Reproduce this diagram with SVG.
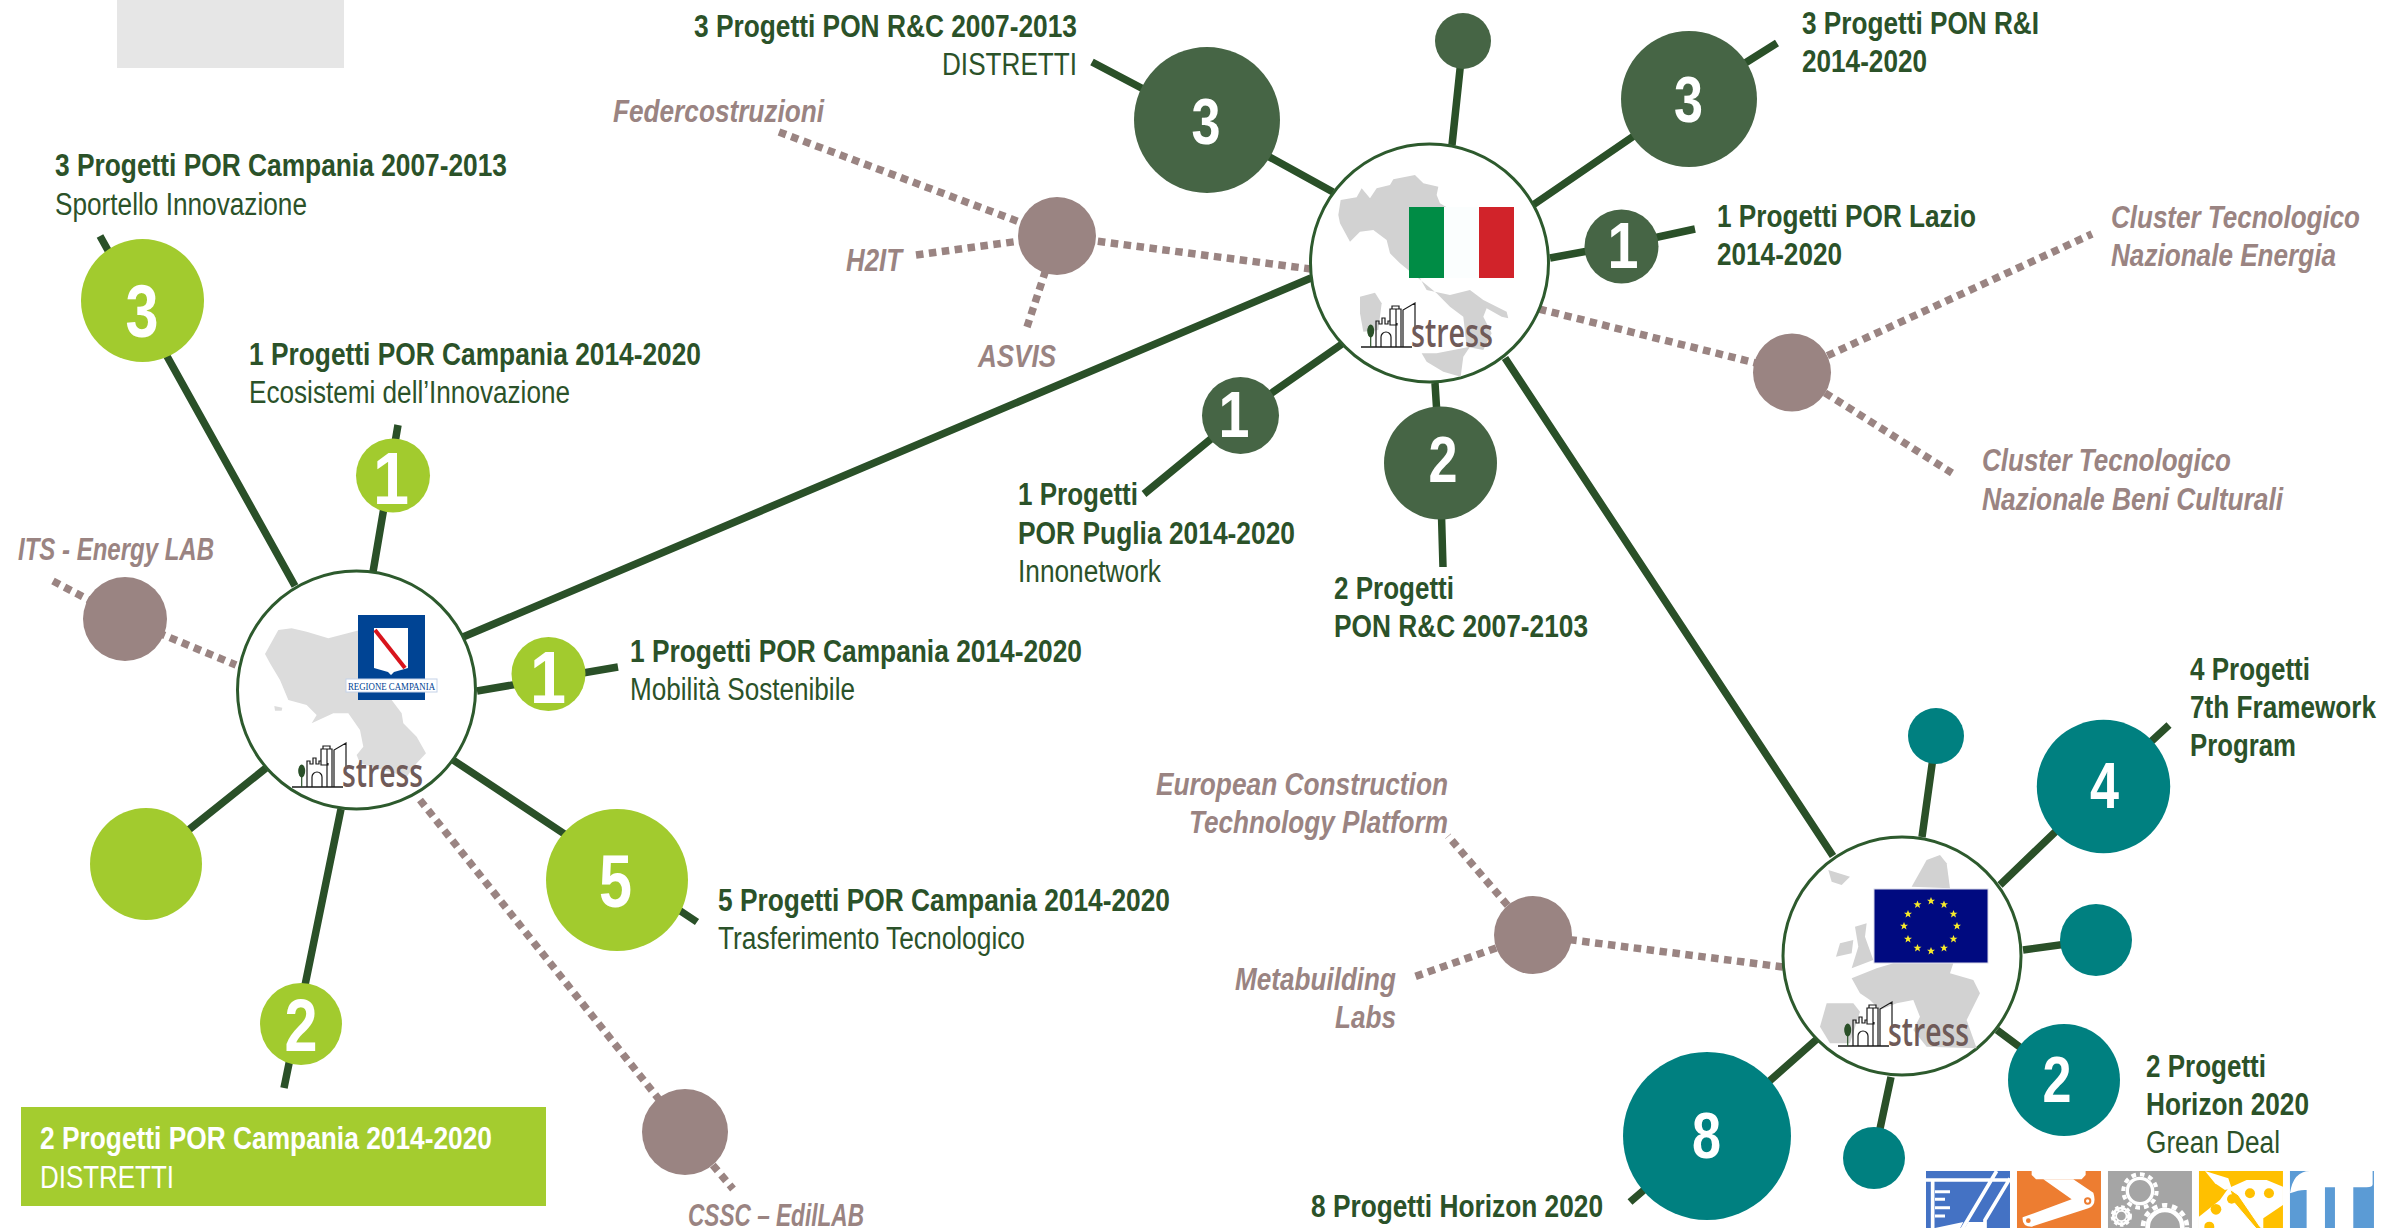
<svg xmlns="http://www.w3.org/2000/svg" width="2385" height="1228" viewBox="0 0 2385 1228">
<style>
text{font-family:"Liberation Sans",Arial,sans-serif;font-size:31px;fill:#2b5229}
.b{font-weight:700}
.g{font-weight:700;font-style:italic;fill:#9a8482}
.w{fill:#fff}
.n{font-weight:700;fill:#fff;font-size:65px}
.m{font-weight:700;fill:#fff;font-size:75px}
.line{stroke:#2a5028;stroke-width:7.5;fill:none}
.dot{stroke:#9a8482;stroke-width:7.5;fill:none;stroke-dasharray:7.5 5.5}
.hub{fill:#fff;stroke:#2d5a2d;stroke-width:3}
.cam{fill:#a2cb2e}.ita{fill:#466545}.eu{fill:#008080}.gr{fill:#9a8482}
.map{fill:#d2d2d2}
.st{font-family:"Open Sans","Liberation Sans",sans-serif;font-weight:600;font-size:40px;fill:#6f5a58}
.bd{fill:none;stroke:#1a1a1a;stroke-width:1.2}
</style>
<defs>
<g id="bld">
<path d="M0,0H51" stroke="#1a1a1a" stroke-width="1.5" fill="none"/>
<ellipse cx="9.700" cy="-16" rx="3.500" ry="6.500" fill="#2a5028"/>
<path d="M9.700,-10V0" stroke="#2a5028" stroke-width="1.200"/>
<path class="bd" d="M15,0V-26h3v3h3v-6h3v6h3v-3h2v4h7v-2M20,0V-10a5,5 0 0 1 10,0V0M29,-22V-38h11V0M31,-38v-3h7v3M35,0V-38M42,0V-37L54,-44V-20"/>
</g>
<polygon id="star" points="0,-4 1.100,-1.300 4,-1.200 1.700,.6 2.500,3.400 0,1.800 -2.500,3.400 -1.700,.6 -4,-1.200 -1.100,-1.300" fill="#f7ea2b"/>
</defs>
<rect x="117" y="0" width="227" height="68" fill="#e6e6e6"/>
<rect x="21" y="1107" width="525" height="99" fill="#a4cc2f"/>

<g id="connectors">
<path class="line" d="M463,637L1311,278M1505,358L1833,856"/>
<path class="line" d="M100,236L295,586M398,425L373,572M618,667L477,691M453,760L697,922M341,809L284,1088M266,768L146,864"/>
<path class="line" d="M1092,62L1206,122L1333,192M1463,41L1452,145M1777,43L1688,99L1533,205M1695,229L1621,245L1550,258M1144,494L1240,415L1342,344M1435,383L1440,464L1443,567"/>
<path class="line" d="M2169,725L2103,786L2000,885M1936,736L1922,837M2096,940L2023,950M2064,1080L1997,1030M1874,1157L1891,1077M1630,1202L1707,1136L1817,1039"/>
<path class="dot" d="M53,581L125,619L236,665M420,800L685,1132L733,1189"/>
<path class="dot" d="M779,132L1057,236L1311,269M916,255L1057,236M1027,327L1057,236"/>
<path class="dot" d="M1539,309L1792,372M1792,372L2092,234M1792,372L1952,473"/>
<path class="dot" d="M1783,967L1533,935M1533,935L1448,836M1533,935L1411,978"/>
</g>

<g id="hub-campania">
<circle class="hub" cx="356.500" cy="690" r="119"/>
<g transform="translate(220,550) scale(.3333)" fill="#dcdcdc">
<path d="M135,312L175,240L215,235L260,245L325,265L420,240L515,450L545,490L550,520L590,560L618,610L590,640L560,680L420,640L410,615L430,590L420,540L385,490L340,490L275,520L290,495L260,465L205,450L180,390L150,340Z"/>
<path d="M163,468L187,473L185,482L165,482Z"/>
</g>
<rect x="358" y="615" width="67" height="85" fill="#004494"/>
<path d="M374,628H408V668L394,672L391,675L388,672L374,668Z" fill="#fff"/>
<path d="M375,630L405,668" stroke="#d8141c" stroke-width="4"/>
<rect x="346" y="679" width="91" height="13" fill="#fff" stroke="#c4d2e8"/>
<text x="348" y="690" textLength="87" lengthAdjust="spacingAndGlyphs" style="font-family:'Liberation Serif',serif;font-size:11px;fill:#004494">REGIONE CAMPANIA</text>
<use href="#bld" x="292" y="787"/>
<text class="st" x="342" y="787" textLength="81" lengthAdjust="spacingAndGlyphs">stress</text>
</g>

<g id="hub-italia">
<circle class="hub" cx="1429.500" cy="263" r="119"/>
<g transform="translate(1250,120) scale(.3333)" class="map">
<path d="M265,285L272,240L320,232L335,205L360,235L380,205L420,195L430,178L495,165L520,190L565,200L560,225L570,250L590,262L600,470L510,475L530,510L600,525L660,510L700,540L770,575L775,595L755,590L710,565L700,590L725,640L700,690L650,680L640,590L600,560L560,520L505,475L450,430L420,400L410,360L370,330L330,335L300,365L270,310Z"/>
<path d="M330,530L375,518L395,550L385,630L340,635L330,580Z"/>
<path d="M515,700L560,700L660,680L640,710L632,770L580,755L530,725Z"/>
</g>
<rect x="1409" y="207" width="35" height="71" fill="#008c45"/>
<rect x="1444" y="207" width="35" height="71" fill="#fbfefe"/>
<rect x="1479" y="207" width="35" height="71" fill="#d1232a"/>
<use href="#bld" x="1361" y="347"/>
<text class="st" x="1411" y="347" textLength="82" lengthAdjust="spacingAndGlyphs">stress</text>
</g>

<g id="hub-europa">
<circle class="hub" cx="1902" cy="956" r="119"/>
<g transform="translate(1770,830) scale(.3333)" class="map">
<path d="M425,170L470,90L510,75L530,100L540,175Z"/>
<path d="M175,120L240,140L215,165L185,155Z"/>
<path d="M198,380L210,340L250,330L245,370Z"/>
<path d="M255,290L290,280L285,320L310,390L245,415L265,350Z"/>
<path d="M245,445L320,415L370,400L550,400L540,430L610,450L630,490L590,570L620,655L470,650L430,600L450,560L430,510L380,520L330,540L300,510L270,490Z"/>
<path d="M170,520L250,520L270,545L240,640L180,640L150,590Z"/>
</g>
<rect x="1874" y="889" width="114" height="74" fill="#000a80" stroke="#d9d9e8"/>
<use href="#star" x="1931" y="901"/><use href="#star" x="1944" y="904.500"/><use href="#star" x="1953.500" y="914"/><use href="#star" x="1957" y="926"/><use href="#star" x="1953.500" y="939"/><use href="#star" x="1944" y="948"/><use href="#star" x="1931" y="951"/><use href="#star" x="1917.500" y="948"/><use href="#star" x="1908" y="939"/><use href="#star" x="1904" y="926"/><use href="#star" x="1908" y="914"/><use href="#star" x="1917.500" y="904.500"/>
<use href="#bld" x="1838" y="1046"/>
<text class="st" x="1888" y="1046" textLength="81" lengthAdjust="spacingAndGlyphs">stress</text>
</g>

<g id="nodes-campania">
<g id="c3"><circle class="cam" cx="142.500" cy="300.500" r="61.500"/><text class="m" x="125.500" y="337" textLength="33" lengthAdjust="spacingAndGlyphs">3</text></g>
<g id="c1a"><circle class="cam" cx="393" cy="475.500" r="37"/><text class="m" x="373" y="504" textLength="36" lengthAdjust="spacingAndGlyphs">1</text></g>
<g id="c1b"><circle class="cam" cx="548.500" cy="674" r="37"/><text class="m" x="530" y="703" textLength="36" lengthAdjust="spacingAndGlyphs">1</text></g>
<g id="c5"><circle class="cam" cx="617" cy="880" r="71"/><text class="m" x="599" y="907" textLength="33" lengthAdjust="spacingAndGlyphs">5</text></g>
<g id="c2"><circle class="cam" cx="301" cy="1024" r="41"/><text class="m" x="284.500" y="1051" textLength="33" lengthAdjust="spacingAndGlyphs">2</text></g>
<circle id="c0" class="cam" cx="146" cy="864" r="56"/>
<circle id="its" class="gr" cx="125" cy="619" r="42"/>
<circle id="cssc" class="gr" cx="685" cy="1132" r="43"/>
</g>
<g id="nodes-italia">
<g id="i3a"><circle class="ita" cx="1207" cy="120" r="73"/><text class="n" x="1191.500" y="144" textLength="29" lengthAdjust="spacingAndGlyphs">3</text></g>
<circle id="i0" class="ita" cx="1463" cy="41" r="28"/>
<g id="i3b"><circle class="ita" cx="1689" cy="99" r="68"/><text class="n" x="1674" y="122" textLength="29" lengthAdjust="spacingAndGlyphs">3</text></g>
<g id="i1a"><circle class="ita" cx="1621.500" cy="246.500" r="37"/><text class="n" x="1607.500" y="268" textLength="31" lengthAdjust="spacingAndGlyphs">1</text></g>
<g id="i1b"><circle class="ita" cx="1240.500" cy="415.500" r="38.500"/><text class="n" x="1218.500" y="437" textLength="31" lengthAdjust="spacingAndGlyphs">1</text></g>
<g id="i2"><circle class="ita" cx="1440.500" cy="463" r="56.500"/><text class="n" x="1428.500" y="482" textLength="29" lengthAdjust="spacingAndGlyphs">2</text></g>
<circle id="gi1" class="gr" cx="1057" cy="236" r="39"/>
<circle id="gi2" class="gr" cx="1792" cy="372.500" r="39"/>
</g>
<g id="nodes-europa">
<g id="e4"><circle class="eu" cx="2103.500" cy="786.500" r="66.700"/><text class="n" x="2090" y="808" textLength="29" lengthAdjust="spacingAndGlyphs">4</text></g>
<circle id="e0a" class="eu" cx="1936" cy="736" r="28"/>
<circle id="e0b" class="eu" cx="2096" cy="940" r="36"/>
<g id="e2"><circle class="eu" cx="2064" cy="1080" r="56"/><text class="n" x="2042.500" y="1102" textLength="29" lengthAdjust="spacingAndGlyphs">2</text></g>
<circle id="e0c" class="eu" cx="1874" cy="1158" r="31"/>
<g id="e8"><circle class="eu" cx="1707" cy="1136" r="84"/><text class="n" x="1692" y="1158" textLength="29" lengthAdjust="spacingAndGlyphs">8</text></g>
<circle id="ge" class="gr" cx="1533" cy="935" r="39"/>
</g>

<g id="labels">
<text class="b" x="55" y="176" textLength="452" lengthAdjust="spacingAndGlyphs">3 Progetti POR Campania 2007-2013</text>
<text x="55" y="215" textLength="252" lengthAdjust="spacingAndGlyphs">Sportello Innovazione</text>
<text class="b" x="249" y="365" textLength="452" lengthAdjust="spacingAndGlyphs">1 Progetti POR Campania 2014-2020</text>
<text x="249" y="403" textLength="321" lengthAdjust="spacingAndGlyphs">Ecosistemi dell’Innovazione</text>
<text class="g" x="18" y="560" textLength="196" lengthAdjust="spacingAndGlyphs">ITS - Energy LAB</text>
<text class="b" x="630" y="662" textLength="452" lengthAdjust="spacingAndGlyphs">1 Progetti POR Campania 2014-2020</text>
<text x="630" y="700" textLength="225" lengthAdjust="spacingAndGlyphs">Mobilità Sostenibile</text>
<text class="b" x="718" y="911" textLength="452" lengthAdjust="spacingAndGlyphs">5 Progetti POR Campania 2014-2020</text>
<text x="718" y="949" textLength="307" lengthAdjust="spacingAndGlyphs">Trasferimento Tecnologico</text>
<text class="b w" x="40" y="1149" textLength="452" lengthAdjust="spacingAndGlyphs">2 Progetti POR Campania 2014-2020</text>
<text class="w" x="40" y="1188" textLength="134" lengthAdjust="spacingAndGlyphs">DISTRETTI</text>
<text class="g" x="688" y="1226" textLength="176" lengthAdjust="spacingAndGlyphs">CSSC – EdilLAB</text>
<text class="g" x="613" y="122" textLength="211" lengthAdjust="spacingAndGlyphs">Federcostruzioni</text>
<text class="g" x="846" y="271" textLength="56" lengthAdjust="spacingAndGlyphs">H2IT</text>
<text class="g" x="978" y="367" textLength="78" lengthAdjust="spacingAndGlyphs">ASVIS</text>
<text class="b" x="694" y="37" textLength="383" lengthAdjust="spacingAndGlyphs">3 Progetti PON R&amp;C 2007-2013</text>
<text x="942" y="75" textLength="135" lengthAdjust="spacingAndGlyphs">DISTRETTI</text>
<text class="b" x="1802" y="34" textLength="237" lengthAdjust="spacingAndGlyphs">3 Progetti PON R&amp;I</text>
<text class="b" x="1802" y="72" textLength="125" lengthAdjust="spacingAndGlyphs">2014-2020</text>
<text class="b" x="1717" y="227" textLength="259" lengthAdjust="spacingAndGlyphs">1 Progetti POR Lazio</text>
<text class="b" x="1717" y="265" textLength="125" lengthAdjust="spacingAndGlyphs">2014-2020</text>
<text class="g" x="2111" y="228" textLength="249" lengthAdjust="spacingAndGlyphs">Cluster Tecnologico</text>
<text class="g" x="2111" y="266" textLength="225" lengthAdjust="spacingAndGlyphs">Nazionale Energia</text>
<text class="g" x="1982" y="471" textLength="249" lengthAdjust="spacingAndGlyphs">Cluster Tecnologico</text>
<text class="g" x="1982" y="510" textLength="301" lengthAdjust="spacingAndGlyphs">Nazionale Beni Culturali</text>
<text class="b" x="1018" y="505" textLength="120" lengthAdjust="spacingAndGlyphs">1 Progetti</text>
<text class="b" x="1018" y="544" textLength="277" lengthAdjust="spacingAndGlyphs">POR Puglia 2014-2020</text>
<text x="1018" y="582" textLength="143" lengthAdjust="spacingAndGlyphs">Innonetwork</text>
<text class="b" x="1334" y="599" textLength="120" lengthAdjust="spacingAndGlyphs">2 Progetti</text>
<text class="b" x="1334" y="637" textLength="254" lengthAdjust="spacingAndGlyphs">PON R&amp;C 2007-2103</text>
<text class="b" x="2190" y="680" textLength="120" lengthAdjust="spacingAndGlyphs">4 Progetti</text>
<text class="b" x="2190" y="718" textLength="186" lengthAdjust="spacingAndGlyphs">7th Framework</text>
<text class="b" x="2190" y="756" textLength="106" lengthAdjust="spacingAndGlyphs">Program</text>
<text class="g" x="1156" y="795" textLength="292" lengthAdjust="spacingAndGlyphs">European Construction</text>
<text class="g" x="1189" y="833" textLength="259" lengthAdjust="spacingAndGlyphs">Technology Platform</text>
<text class="g" x="1235" y="990" textLength="161" lengthAdjust="spacingAndGlyphs">Metabuilding</text>
<text class="g" x="1335" y="1028" textLength="61" lengthAdjust="spacingAndGlyphs">Labs</text>
<text class="b" x="2146" y="1077" textLength="120" lengthAdjust="spacingAndGlyphs">2 Progetti</text>
<text class="b" x="2146" y="1115" textLength="163" lengthAdjust="spacingAndGlyphs">Horizon 2020</text>
<text x="2146" y="1153" textLength="134" lengthAdjust="spacingAndGlyphs">Grean Deal</text>
<text class="b" x="1311" y="1217" textLength="292" lengthAdjust="spacingAndGlyphs">8 Progetti Horizon 2020</text>
</g>

<g id="icons" transform="translate(1900,1130) scale(.3333)">
<g id="icon-blue">
<rect x="78" y="123" width="252" height="180" fill="#4472c4"/>
<path d="M78,150H330M98,150V300M290,123L185,300M330,145L255,270V300" stroke="#fff" stroke-width="11" fill="none"/>
<path d="M105,185H150M105,208H135M105,233H150M105,258H135" stroke="#fff" stroke-width="9"/>
<path d="M105,294L190,276L178,300H105Z M205,276H252V300H190Z" fill="#fff"/>
</g>
<g id="icon-orange">
<rect x="351" y="123" width="252" height="180" fill="#ed7d31"/>
<path d="M395,123V135L408,148H545L557,135V123Z" fill="#fff"/>
<path d="M520,148L580,188Q592,225 565,235L395,290Q365,290 368,262L515,208L430,148Z" fill="#fff"/>
<circle cx="563" cy="213" r="11" fill="#ed7d31"/><circle cx="563" cy="213" r="5" fill="#fff"/>
<circle cx="385" cy="272" r="7" fill="#ed7d31"/>
</g>
<g id="icon-gray" fill="none" stroke="#fff">
<rect x="624" y="123" width="252" height="180" fill="#a5a5a5" stroke="none"/>
<circle cx="720" cy="183" r="38" stroke-width="10"/><circle cx="720" cy="183" r="50" stroke-width="12" stroke-dasharray="14 12"/>
<circle cx="664" cy="258" r="24" stroke-width="16" stroke-dasharray="9 7"/><circle cx="664" cy="258" r="24" stroke-width="8"/><circle cx="664" cy="258" r="18" fill="#fff" stroke="none"/>
<circle cx="664" cy="258" r="13" fill="#a5a5a5" stroke="none"/>
<circle cx="795" cy="292" r="52" stroke-width="14"/><circle cx="795" cy="292" r="66" stroke-width="14" stroke-dasharray="16 14"/>
</g>
<g id="icon-yellow">
<rect x="897" y="123" width="252" height="180" fill="#ffc000"/>
<path d="M897,260L960,210L985,175L1040,150L1100,150L1149,170V225L1090,265L1090,303H897Z" fill="#fff"/>
<path d="M915,123L985,145L995,175L975,180L945,160Z" fill="#fff"/>
<path d="M990,178L1015,195L1080,290L1095,303H1075L1000,215Z" fill="#ffc000" stroke="#fff" stroke-width="3"/>
<circle cx="1050" cy="190" r="15" fill="#ffc000"/><circle cx="1107" cy="190" r="15" fill="#ffc000"/><circle cx="995" cy="207" r="14" fill="#ffc000"/><circle cx="948" cy="238" r="16" fill="#ffc000"/><circle cx="928" cy="290" r="15" fill="#ffc000"/>
</g>
<g id="icon-pi">
<rect x="1170" y="123" width="252" height="180" fill="#5b9bd5"/>
<path d="M1170,190Q1180,123 1230,123H1418V160Q1420,172 1400,172H1360V303H1305V172H1275V303H1220V180Q1200,178 1170,190Z" fill="#fff"/>
</g>
</g>
</svg>
